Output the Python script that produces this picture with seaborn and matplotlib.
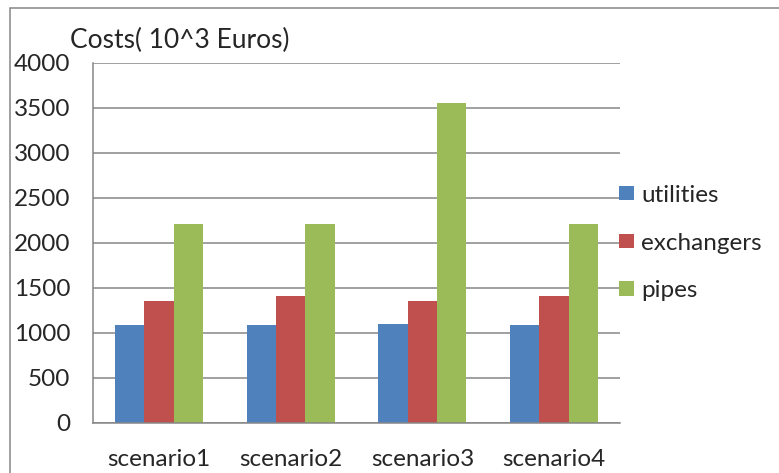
import matplotlib
matplotlib.use("Agg")
import matplotlib.pyplot as plt
import matplotlib.patches as mpatches
import seaborn as sns
import pandas as pd

scenarios = ["scenario1", "scenario2", "scenario3", "scenario4"]
utilities = [1085, 1085, 1090, 1085]
exchangers = [1355, 1405, 1355, 1405]
pipes = [2210, 2210, 3550, 2210]
series_names = ["utilities", "exchangers", "pipes"]
colors = ["#4F81BD", "#C0504D", "#9BBB59"]
yticks = [0, 500, 1000, 1500, 2000, 2500, 3000, 3500, 4000]

df = pd.DataFrame({
    "scenario": scenarios * 3,
    "series": [s for s in series_names for _ in scenarios],
    "value": utilities + exchangers + pipes,
})

sns.set_style("white")
plt.rcParams["font.family"] = ["Lato", "DejaVu Sans"]
FS = 17.5

W, H = 779, 473
fig = plt.figure(figsize=(W / 100, H / 100), dpi=100)
ax = fig.add_axes([93 / W, 1 - 422.5 / H, (620 - 93) / W, (422.5 - 62.7) / H])

gray = "#868686"
sns.barplot(data=df, x="scenario", y="value", hue="series", palette=colors,
            width=0.667, ax=ax, saturation=1, edgecolor="none", legend=True)

ax.set_ylim(0, 4000)
ax.set_xlim(-0.5, 3.5)
ax.set_yticks(yticks)
ax.set_yticklabels([str(v) for v in yticks], fontsize=FS)
ax.set_xticks([-0.5, 0.5, 1.5, 2.5, 3.5])
ax.set_xticklabels([])
ax.set_xticks(range(4), minor=True)
ax.set_xticklabels(scenarios, minor=True, fontsize=FS)
ax.tick_params(axis="x", which="major", length=6, width=1.1, color=gray, direction="out")
ax.tick_params(axis="x", which="minor", length=0, pad=19)
ax.tick_params(axis="y", length=6.5, width=1.1, color=gray, direction="out", pad=10)
ax.set_xlabel("")
ax.set_ylabel("")
ax.yaxis.grid(True, color=gray, lw=1.1)
ax.set_axisbelow(True)
for s in ["top", "right"]:
    ax.spines[s].set_visible(False)
for s in ["left", "bottom"]:
    ax.spines[s].set_color(gray)
    ax.spines[s].set_linewidth(1.1)

ax.legend_.remove()
handles = [mpatches.Patch(facecolor=c, edgecolor="none") for c in colors]
fig.legend(handles, series_names, loc="center left",
           bbox_to_anchor=(619 / W, 1 - 243 / H), frameon=False, fontsize=FS,
           handlelength=0.62, handleheight=0.55, handletextpad=0.3,
           labelspacing=1.1, borderaxespad=0, borderpad=0)

fig.text(70 / W, 1 - 40 / H, "Costs( 10^3 Euros)", fontsize=19, va="center", ha="left")

border = mpatches.Rectangle((9.5 / W, -0.1), 1.2, 1.1 - 8 / H, transform=fig.transFigure,
                            facecolor="none", edgecolor=gray, lw=1.1, clip_on=False)
fig.patches.append(border)

fig.savefig("out.png", dpi=100)
